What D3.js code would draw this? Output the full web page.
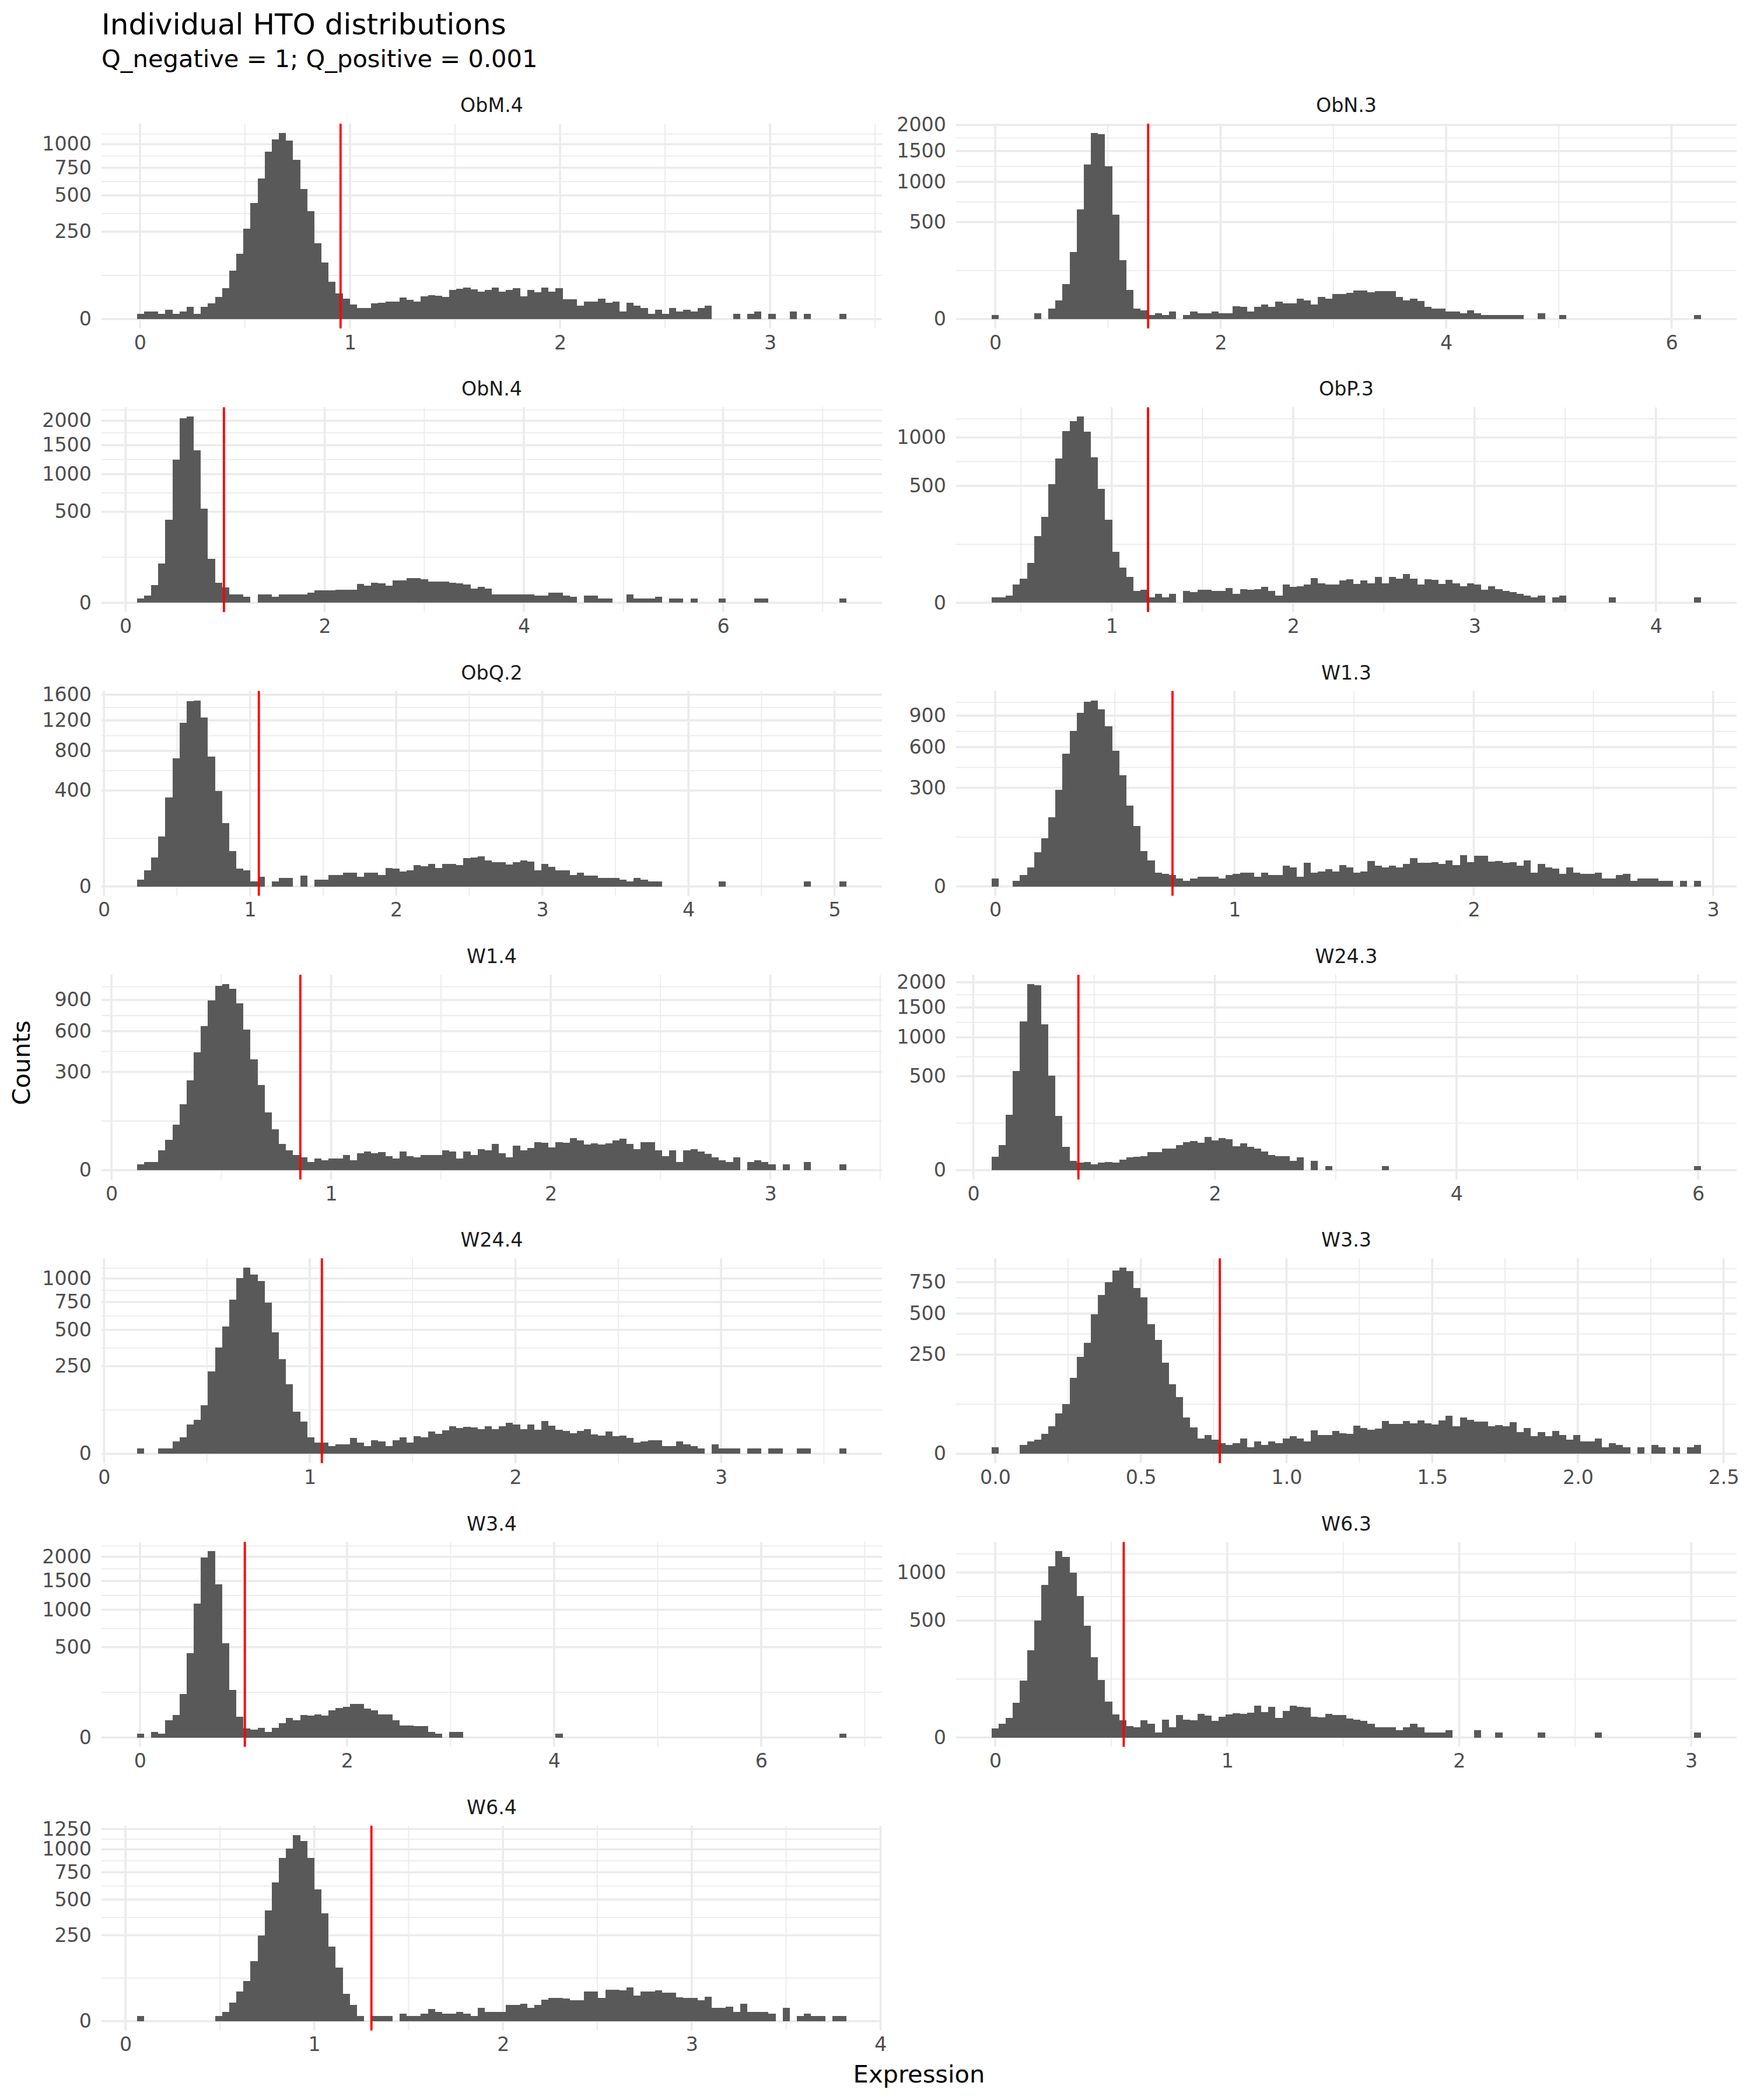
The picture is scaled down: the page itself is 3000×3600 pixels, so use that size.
<!DOCTYPE html>
<html><head><meta charset="utf-8">
<script src="https://cdn.jsdelivr.net/npm/d3@7"></script>
<style>body{margin:0;background:#fff}</style>
</head><body>
<svg id="chart" width="3000" height="3600" xmlns="http://www.w3.org/2000/svg"></svg>
<script>
// ---------------- DATA ----------------
const panelNames = ["ObM.4","ObN.3","ObN.4","ObP.3","ObQ.2","W1.3","W1.4","W24.3","W24.4","W3.3","W3.4","W6.3","W6.4"];

const countsObM4 = [1,2,2,1,3,1,2,5,1,5, 8,16,31,76,139,266,441,649,919,1056, 1133,1045,830,556,383,187,104,46,22,14, 7,4,4,8,9,10,10,15,12,10, 17,19,18,16,28,30,33,29,25,28, 32,25,28,31,17,28,24,33,25,31, 13,13,6,10,10,14,9,10,2,9, 6,4,1,3,1,4,2,3,2,4, 6,0,0,0,1,0,1,2,0,1, 0,0,2,0,1,0,0,0,0,1];
const countsObN3 = [1,0,0,0,0,0,2,0,6,18, 66,241,641,1270,1839,1816,1242,581,184,46, 6,4,1,2,1,3,0,1,3,2, 2,3,2,2,9,8,3,8,11,8, 16,13,13,22,19,11,26,22,34,33, 36,44,44,38,41,41,41,26,18,22, 17,8,6,6,3,3,2,4,2,1, 1,1,1,1,1,0,0,2,0,0, 1,0,0,0,0,0,0,0,0,0, 0,0,0,0,0,0,0,0,0,1];
const countsObN4 = [1,3,19,94,418,1232,2060,2091,1398,537, 117,24,14,4,4,2,0,4,4,2, 4,4,4,4,6,9,9,9,10,10, 10,22,18,24,23,18,30,30,37,37, 34,27,27,27,24,23,20,12,15,12, 4,4,4,4,4,4,3,3,6,6, 3,2,0,3,3,1,1,0,0,4, 1,1,1,2,0,1,1,0,1,0, 0,0,1,0,0,0,0,1,1,0, 0,0,0,0,0,0,0,0,0,1];
const countsObP3 = [1,1,2,12,21,58,162,269,513,760, 1077,1205,1268,1069,772,474,251,96,46,24, 5,6,1,3,1,3,0,5,4,6, 6,5,5,8,3,7,6,7,9,5, 2,12,9,10,12,22,14,12,12,18, 20,13,18,14,25,14,25,21,30,21, 12,20,19,13,19,14,10,14,12,6, 10,7,5,4,3,2,1,2,0,1, 2,0,0,0,0,0,0,1,0,0, 0,0,0,0,0,0,0,0,0,1];
const countsObQ2 = [2,11,37,109,347,711,1163,1494,1507,1239, 731,395,176,54,14,11,1,4,0,1, 3,3,0,5,0,2,2,6,6,8, 8,4,8,8,6,15,14,10,11,20, 18,22,15,22,22,20,35,37,40,30, 26,26,21,26,30,27,11,22,17,11, 11,6,8,5,5,3,3,3,2,1, 3,2,1,1,0,0,0,0,0,0, 0,0,1,0,0,0,0,0,0,0, 0,0,0,0,1,0,0,0,0,1];
const countsW13 = [2,0,0,1,4,11,36,72,149,289, 542,744,928,1055,1069,966,790,566,383,203, 113,38,21,6,5,4,2,1,2,3, 3,3,2,4,5,6,6,3,6,4, 4,13,11,3,17,6,7,9,7,14, 11,6,7,20,13,11,13,11,16,25, 17,17,18,16,21,14,30,18,29,29, 19,20,17,18,13,21,6,16,11,10, 5,11,6,5,5,6,2,2,4,5, 1,2,2,2,1,1,0,1,0,1];
const countsW14 = [1,2,2,12,29,65,136,252,433,644, 897,1053,1077,1026,862,615,380,224,104,52, 21,12,7,5,2,4,3,4,4,7, 3,9,11,9,10,6,4,11,6,5, 7,7,7,12,11,4,11,7,14,12, 21,9,5,19,12,15,24,23,16,24, 23,32,27,20,22,20,22,27,31,21, 14,24,24,12,6,12,2,12,14,11, 8,5,3,2,5,0,2,3,2,1, 0,1,0,0,2,0,0,0,0,1];
const countsW243 = [10,35,175,560,1258,1963,1942,1209,508,168, 30,5,3,4,2,3,4,3,6,9, 10,11,18,19,27,27,35,45,49,43, 63,51,59,55,33,41,31,27,20,13, 11,11,5,9,0,5,0,1,0,0, 0,0,0,0,0,1,0,0,0,0, 0,0,0,0,0,0,0,0,0,0, 0,0,0,0,0,0,0,0,0,0, 0,0,0,0,0,0,0,0,0,0, 0,0,0,0,0,0,0,0,0,1];
const countsW244 = [1,0,0,1,1,5,9,28,37,77, 222,368,528,773,1004,1128,1045,971,744,481, 292,158,58,34,9,4,4,2,3,3, 8,4,2,6,5,2,6,9,4,10, 9,16,13,18,25,22,24,23,20,25, 20,25,32,28,20,28,19,35,26,19, 17,14,17,20,12,11,16,10,11,8, 4,5,6,6,2,2,5,3,2,1, 0,3,1,1,1,0,1,1,0,1, 1,0,0,1,1,0,0,0,0,1];
const countsW33 = [1,0,0,0,2,4,5,10,19,42, 63,147,239,313,495,641,748,853,881,848, 698,622,427,330,211,123,82,33,18,6, 9,5,3,2,3,6,1,4,2,4, 3,6,8,6,4,14,9,9,13,11, 10,20,17,15,16,27,23,23,27,24, 28,24,22,28,37,19,33,29,26,26, 19,21,19,25,12,17,8,12,8,13, 9,5,9,4,4,6,1,3,2,1, 0,1,0,2,1,0,1,0,1,2];
const countsW34 = [1,0,2,1,18,31,115,438,1094,1985, 2121,1433,542,137,26,5,4,6,2,6, 13,23,18,31,29,33,30,46,54,58, 70,70,52,46,33,33,18,9,9,8, 8,2,1,0,2,2,0,0,0,0, 0,0,0,0,0,0,0,0,0,1, 0,0,0,0,0,0,0,0,0,0, 0,0,0,0,0,0,0,0,0,0, 0,0,0,0,0,0,0,0,0,0, 0,0,0,0,0,0,0,0,0,1];
const countsW63 = [3,7,14,44,119,278,500,851,1072,1270, 1199,993,732,457,236,121,47,20,11,5, 4,11,7,1,12,4,19,12,11,21, 18,10,16,20,22,21,23,37,24,34, 14,26,37,34,33,16,15,21,19,19, 13,12,10,7,4,4,4,2,4,7, 4,1,1,1,2,0,0,0,2,0, 0,1,0,0,0,0,0,1,0,0, 0,0,0,0,0,1,0,0,0,0, 0,0,0,0,0,0,0,0,0,1];
const countsW64 = [1,0,0,0,0,0,0,0,0,0, 0,1,3,12,30,54,121,247,414,650, 903,1008,1173,1097,903,587,394,188,98,25, 9,1,0,1,1,1,0,2,1,1, 2,5,3,2,2,3,2,1,6,3, 3,3,9,9,10,6,9,16,18,18, 17,15,15,30,30,18,34,34,32,38, 22,30,30,32,27,27,19,18,18,15, 20,6,6,7,3,10,3,3,3,2, 0,6,0,1,2,1,1,0,1,1];

// outer edges (expression values) of the first and last bin of each histogram
const binEdges = [[-0.0143,3.364],[-0.032,6.262],[0.115,7.24],[0.3375,4.249],[0.226,5.082],[-0.0152,2.95],[0.116,3.347],[0.151,6.025],[0.16,3.61],[-0.0125,2.423],[-0.029,6.824],[-0.0157,3.043],[0.061,3.82]];
// red threshold per HTO
const thresholds = [0.955,1.357,0.988,1.2,1.06,0.741,0.86,0.87,1.059,0.771,1.013,0.554,1.303];
// axis breaks
const yBreaks = [[0,250,500,750,1000],[0,500,1000,1500,2000],[0,500,1000,1500,2000],[0,500,1000],[0,400,800,1200,1600],[0,300,600,900],[0,300,600,900],[0,500,1000,1500,2000],[0,250,500,750,1000],[0,250,500,750],[0,500,1000,1500,2000],[0,500,1000],[0,250,500,750,1000,1250]];
const xBreaks = [[0,1,2,3],[0,2,4,6],[0,2,4,6],[1,2,3,4],[0,1,2,3,4,5],[0,1,2,3],[0,1,2,3],[0,2,4,6],[0,1,2,3],[0,0.5,1,1.5,2,2.5],[0,2,4,6],[0,1,2,3],[0,1,2,3,4]];
const xLabelDecimals = [0,0,0,0,0,0,0,0,0,1,0,0,0];

const allCounts = [countsObM4,countsObN3,countsObN4,countsObP3,countsObQ2,countsW13,countsW14,countsW243,countsW244,countsW33,countsW34,countsW63,countsW64];

// ---------------- LAYOUT ----------------
const W = 3000, H = 3600;
const FONT = "'DejaVu Sans', 'Noto Sans', sans-serif";
const colX = [[174,1512],[1639,2977]];
const rowTop0 = 212, rowPitch = 486.3, panelH = 351;
const GRID = "#EBEBEB", BAR = "#595959", AXIS_TXT = "#4D4D4D";

const svg = d3.select("#chart");
svg.append("rect").attr("width",W).attr("height",H).attr("fill","#ffffff");

panelNames.forEach((name,k) => {
  const counts = allCounts[k];
  const [lo,hi] = binEdges[k];
  const nb = counts.length;
  const bw = (hi-lo)/nb;
  const col = k%2, row = Math.floor(k/2);
  const [px0,px1] = colX[col];
  const py0 = rowTop0 + row*rowPitch, py1 = py0 + panelH;

  const pad = 0.05*(hi-lo);
  const x = d3.scaleLinear().domain([lo-pad, hi+pad]).range([px0,px1]);
  const s = Math.sqrt(d3.max(counts));
  const yTop = (1.05*s)**2;
  const y = d3.scaleSqrt().domain([-((0.05*s)**2), yTop]).range([py1,py0]);

  const g = svg.append("g");

  // grid lines
  const [xd0,xd1] = x.domain();
  const xb = xBreaks[k], xs = xb[1]-xb[0];
  const xExt = [xb[0]-xs, ...xb, xb[xb.length-1]+xs];
  const xMinor = d3.pairs(xExt).map(([a,b]) => (a+b)/2).filter(v => v>=xd0 && v<=xd1);
  const xMajor = xb.filter(v => v>=xd0 && v<=xd1);
  const yb = yBreaks[k], ys = yb[1]-yb[0];
  const yExt = [...yb, yb[yb.length-1]+ys];
  const yMinor = d3.pairs(yExt).map(([a,b]) => ((Math.sqrt(a)+Math.sqrt(b))/2)**2).filter(v => v<=yTop);
  const yMajor = yb.filter(v => v<=yTop);

  g.selectAll(null).data(xMinor).join("line")
    .attr("x1",d=>x(d)).attr("x2",d=>x(d)).attr("y1",py0).attr("y2",py1)
    .attr("stroke",GRID).attr("stroke-width",1.8);
  g.selectAll(null).data(yMinor).join("line")
    .attr("x1",px0).attr("x2",px1).attr("y1",d=>y(d)).attr("y2",d=>y(d))
    .attr("stroke",GRID).attr("stroke-width",1.8);
  g.selectAll(null).data(xMajor).join("line")
    .attr("x1",d=>x(d)).attr("x2",d=>x(d)).attr("y1",py0).attr("y2",py1)
    .attr("stroke",GRID).attr("stroke-width",3.6);
  g.selectAll(null).data(yMajor).join("line")
    .attr("x1",px0).attr("x2",px1).attr("y1",d=>y(d)).attr("y2",d=>y(d))
    .attr("stroke",GRID).attr("stroke-width",3.6);

  // bars
  const bins = counts.map((c,i) => ({c, x0: lo+i*bw, x1: lo+(i+1)*bw})).filter(d => d.c>0);
  g.selectAll(null).data(bins).join("rect")
    .attr("x",d=>x(d.x0)).attr("width",d=>x(d.x1)-x(d.x0))
    .attr("y",d=>y(d.c)).attr("height",d=>y(0)-y(d.c))
    .attr("fill",BAR).attr("shape-rendering","crispEdges");

  // threshold
  g.append("line")
    .attr("x1",x(thresholds[k])).attr("x2",x(thresholds[k]))
    .attr("y1",py0).attr("y2",py1)
    .attr("stroke","#FF0000").attr("stroke-width",3.8);

  // axes
  const ax = g.append("g").attr("transform",`translate(0,${py1})`)
    .call(d3.axisBottom(x).tickValues(xb).tickFormat(d => d.toFixed(xLabelDecimals[k])).tickSize(0).tickPadding(12));
  ax.select(".domain").remove();
  ax.attr("font-family",FONT).attr("font-size",33.3);
  ax.selectAll("text").attr("fill",AXIS_TXT);

  const ay = g.append("g").attr("transform",`translate(${px0},0)`)
    .call(d3.axisLeft(y).tickValues(yMajor).tickFormat(d3.format("d")).tickSize(0).tickPadding(17));
  ay.select(".domain").remove();
  ay.attr("font-family",FONT).attr("font-size",33.3);
  ay.selectAll("text").attr("fill",AXIS_TXT);

  // strip label
  g.append("text")
    .attr("x",(px0+px1)/2).attr("y",py0-20)
    .attr("text-anchor","middle").attr("font-family",FONT).attr("font-size",33.3)
    .attr("fill","#1A1A1A").text(name);
});

// titles
svg.append("text").attr("x",174).attr("y",59)
  .attr("font-family",FONT).attr("font-size",50).attr("fill","#000")
  .text("Individual HTO distributions");
svg.append("text").attr("x",174).attr("y",115)
  .attr("font-family",FONT).attr("font-size",41.6).attr("fill","#000")
  .text("Q_negative = 1; Q_positive = 0.001");
svg.append("text").attr("x",(174+2977)/2).attr("y",3570)
  .attr("text-anchor","middle").attr("font-family",FONT).attr("font-size",41.6).attr("fill","#000")
  .text("Expression");
svg.append("text")
  .attr("transform","translate(51,1822) rotate(-90)")
  .attr("text-anchor","middle").attr("font-family",FONT).attr("font-size",41.6).attr("fill","#000")
  .text("Counts");
</script>
</body></html>
